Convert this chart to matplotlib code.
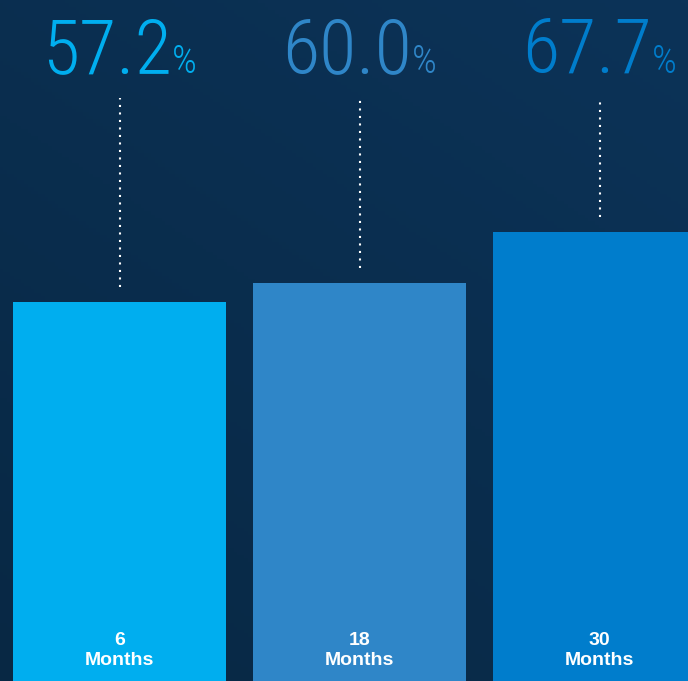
import numpy as np
import matplotlib
matplotlib.use("Agg")
import matplotlib.pyplot as plt
from matplotlib.colors import LinearSegmentedColormap

categories = ["6\nMonths", "18\nMonths", "30\nMonths"]
values = [57.2, 60.0, 67.7]
value_labels = ["57.2", "60.0", "67.7"]
colors = ["#00AEEF", "#2F86C8", "#007DCC"]

num_font = ["Roboto Condensed", "DejaVu Sans"]

W, H = 688, 681
fig = plt.figure(figsize=(W / 100, H / 100), dpi=100)
ax = fig.add_axes([0, 0, 1, 1])
ppu_y = 6.63
ax.set_xlim(-119.5 / 240, (W - 119.5) / 240)
ax.set_ylim(0, H / ppu_y)
ax.axis("off")

# background gradient (top-right slightly lighter, bottom-left darker)
yy, xx = np.mgrid[0:1:200j, 0:1:200j]
grad = 0.6 * yy + 0.4 * xx
cmap = LinearSegmentedColormap.from_list("bg", ["#082844", "#0c3358"])
ax.imshow(grad, cmap=cmap, extent=[*ax.get_xlim(), *ax.get_ylim()],
          origin="lower", aspect="auto", zorder=0)

x = np.arange(len(values))
ax.bar(x, values, width=213 / 240, color=colors, zorder=2)

top_line = (H - 98) / ppu_y
for xi, v in zip(x, values):
    ax.vlines(xi, v + 15 / ppu_y, top_line, colors="white", linewidth=1.5,
              linestyles=(0, (1, 2.6)), zorder=3)

for xi, cat in zip(x, categories):
    ax.text(xi, 12 / ppu_y, cat, ha="center", va="bottom", color="white",
            fontsize=14, fontweight="bold", family="Liberation Sans",
            linespacing=1.22, zorder=4)

base_y = (H - 73) / ppu_y
nums, pcts = [], []
for xi, lab, c in zip(x, value_labels, colors):
    t1 = ax.text(xi, base_y, lab, ha="left", va="baseline", color=c,
                 fontsize=55, family=num_font, fontweight=300, zorder=4)
    t2 = ax.text(xi, base_y, "%", ha="left", va="baseline", color=c,
                 fontsize=28, family=num_font, fontweight=300, zorder=4)
    nums.append(t1)
    pcts.append(t2)

fig.canvas.draw()
r = fig.canvas.get_renderer()
inv = ax.transData.inverted()
gap = 0
for xi, t1, t2 in zip(x, nums, pcts):
    w1 = t1.get_window_extent(r).width
    w2 = t2.get_window_extent(r).width
    total = w1 + gap + w2
    cx = ax.transData.transform((xi, 0))[0]
    left = cx - total / 2
    t1.set_x(inv.transform((left, 0))[0])
    t2.set_x(inv.transform((left + w1 + gap, 0))[0])

fig.savefig("out.png", dpi=100)
